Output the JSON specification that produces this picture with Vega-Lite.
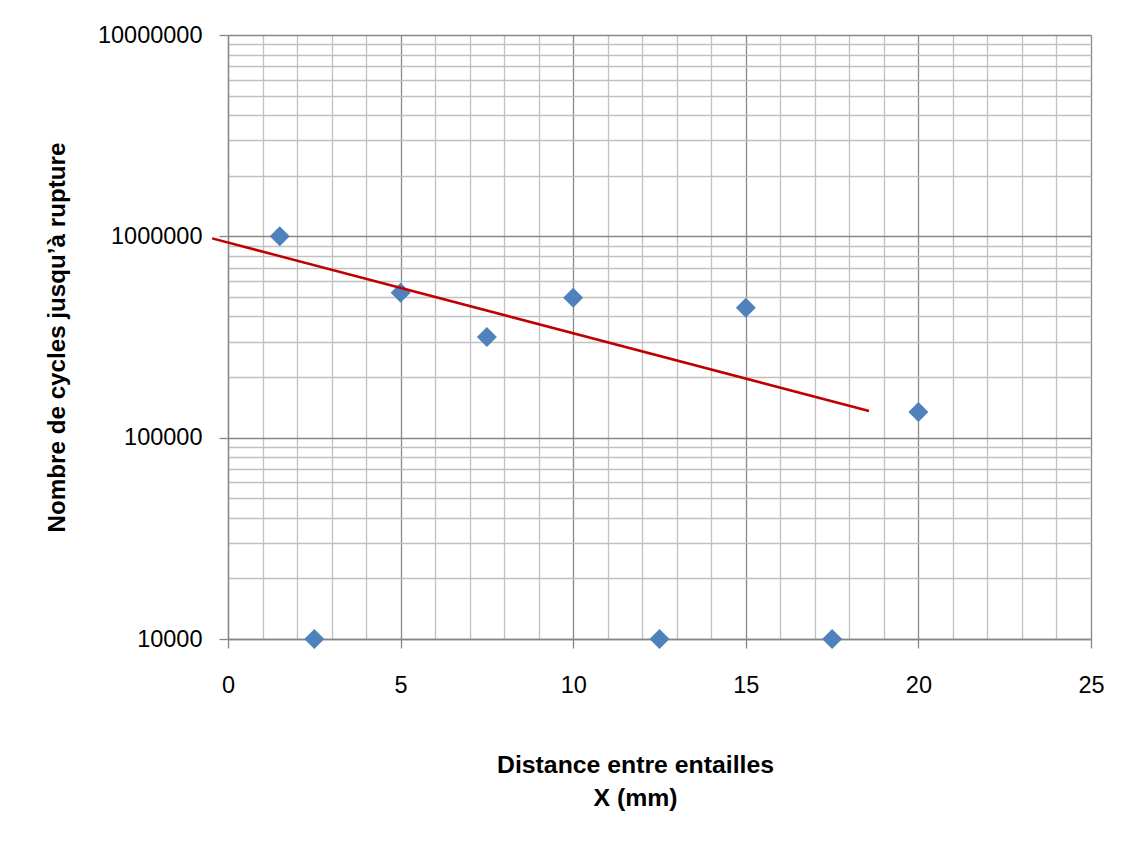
{
  "$schema": "https://vega.github.io/schema/vega-lite/v6.json",
  "autosize": {"type": "none"},
  "padding": {"left": 228, "top": 35, "right": 37, "bottom": 211},
  "width": 863,
  "height": 604,
  "background": "white",
  "config": {
    "view": {"stroke": null},
    "axis": {
      "labelFont": "Liberation Sans",
      "labelFontSize": 23.5,
      "labelColor": "#000000",
      "titleFont": "Liberation Sans",
      "titleFontSize": 24.2,
      "titleFontWeight": "bold",
      "titleColor": "#000000",
      "domainColor": "#868686",
      "domainWidth": 1.3,
      "tickColor": "#868686",
      "tickWidth": 1.3,
      "tickSize": 9,
      "gridWidth": 1.3
    }
  },
  "datasets": {
    "points": [
      {"x": 1.5, "cycles": 1000000},
      {"x": 2.5, "cycles": 10000},
      {"x": 5, "cycles": 525000},
      {"x": 7.5, "cycles": 316000},
      {"x": 10, "cycles": 495000},
      {"x": 12.5, "cycles": 10000},
      {"x": 15, "cycles": 442000},
      {"x": 17.5, "cycles": 10000},
      {"x": 20, "cycles": 134000}
    ],
    "trend": [
      {"x": -0.46, "cycles": 977000},
      {"x": 18.57, "cycles": 135700}
    ]
  },
  "layer": [
    {
      "data": {"name": "points"},
      "mark": {"type": "point", "shape": "diamond", "filled": true, "size": 400, "color": "#4f81bd", "opacity": 1},
      "encoding": {
        "x": {
          "field": "x",
          "type": "quantitative",
          "scale": {"domain": [0, 25], "nice": false, "zero": false},
          "axis": {
            "title": ["Distance entre entailles", "X (mm)"],
            "titleFontSize": 24.8,
            "titlePadding": 56,
            "titleLineHeight": 33,
            "titleX": 407,
            "tickCount": 40,
            "values": [0,1,2,3,4,5,6,7,8,9,10,11,12,13,14,15,16,17,18,19,20,21,22,23,24,25],
            "labelExpr": "datum.value % 5 === 0 ? format(datum.value, 'd') : ''",
            "labelPadding": 25,
            "labelFlush": false,
            "labelOverlap": false,
            "grid": true,
            "gridColor": {"condition": {"test": "datum.value % 5 === 0", "value": "#878787"}, "value": "#c0c0c0"},
            "tickOpacity": {"condition": {"test": "datum.value % 5 === 0", "value": 1}, "value": 0}
          }
        },
        "y": {
          "field": "cycles",
          "type": "quantitative",
          "scale": {"type": "log", "domain": [10000, 10000000], "nice": false},
          "axis": {
            "title": "Nombre de cycles jusqu’à rupture",
            "titlePadding": 28,
            "tickCount": 40,
            "values": [10000,20000,30000,40000,50000,60000,70000,80000,90000,100000,200000,300000,400000,500000,600000,700000,800000,900000,1000000,2000000,3000000,4000000,5000000,6000000,7000000,8000000,9000000,10000000],
            "labelExpr": "indexof([10000,100000,1000000,10000000], datum.value) >= 0 ? format(datum.value, 'd') : ''",
            "labelPadding": 17,
            "labelFlush": false,
            "labelOverlap": false,
            "grid": true,
            "gridColor": {"condition": {"test": "indexof([10000,100000,1000000,10000000], datum.value) >= 0", "value": "#878787"}, "value": "#c0c0c0"},
            "tickOpacity": {"condition": {"test": "indexof([10000,100000,1000000,10000000], datum.value) >= 0", "value": 1}, "value": 0}
          }
        }
      }
    },
    {
      "data": {"name": "trend"},
      "mark": {"type": "line", "color": "#c00000", "strokeWidth": 2.5, "clip": false},
      "encoding": {
        "x": {"field": "x", "type": "quantitative"},
        "y": {"field": "cycles", "type": "quantitative"}
      }
    }
  ]
}
